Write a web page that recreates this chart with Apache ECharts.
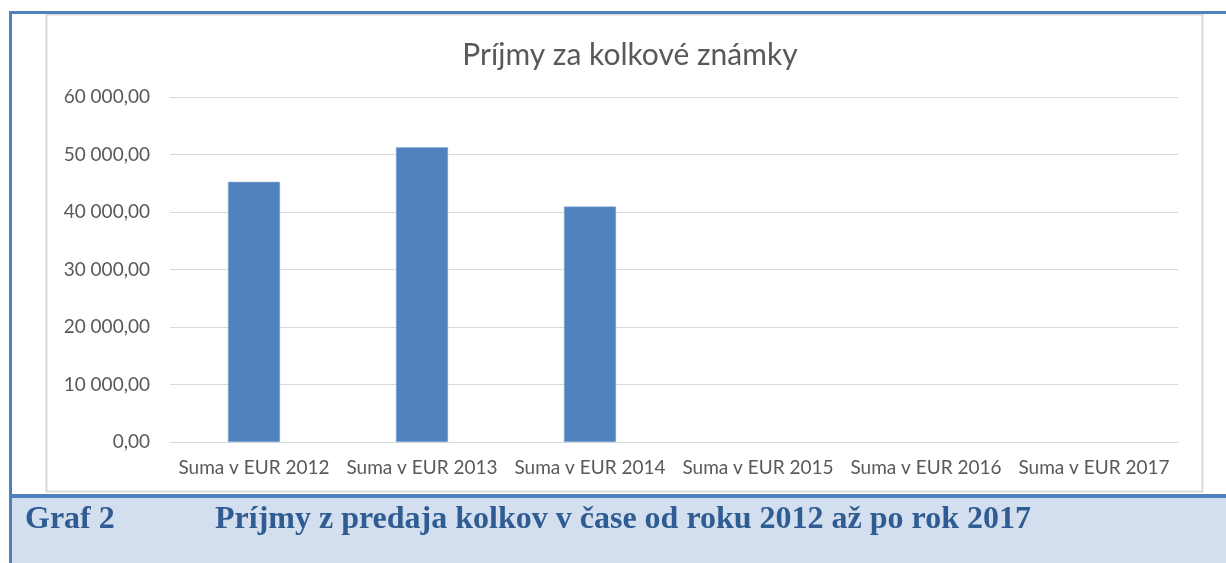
<!DOCTYPE html>
<html>
<head>
<meta charset="utf-8">
<script src="https://cdn.jsdelivr.net/npm/echarts@6/dist/echarts.min.js"></script>
<style>
  html, body { margin: 0; padding: 0; background: #fff; }
  #chart { width: 1226px; height: 563px; }
</style>
</head>
<body>
<div id="chart"></div>
<script>
// data
const categories = ['Suma v EUR 2012', 'Suma v EUR 2013', 'Suma v EUR 2014', 'Suma v EUR 2015', 'Suma v EUR 2016', 'Suma v EUR 2017'];
const values = [45250, 51250, 40950, null, null, null];
const chartTitle = 'Príjmy za kolkové známky';
const captionLabel = 'Graf 2';
const captionText = 'Príjmy z predaja kolkov v čase od roku 2012 až po rok 2017';

const blue = '#4f81bd';
const gray = '#595959';

function fmt(v) {
  // 60000 -> "60 000,00"
  const s = Math.round(v).toString().replace(/\B(?=(\d{3})+(?!\d))/g, ' ');
  return s + ',00';
}

const chart = echarts.init(document.getElementById('chart'));
chart.setOption({
  animation: false,
  title: {
    text: chartTitle,
    left: 625,
    top: 35,
    textAlign: 'center',
    textStyle: { fontFamily: 'Lato', fontWeight: 'normal', fontSize: 30, color: gray }
  },
  grid: { left: 170, right: 48, top: 97, bottom: 121 },
  xAxis: {
    type: 'category',
    data: categories,
    axisTick: { show: false },
    axisLine: { lineStyle: { color: '#d9d9d9', width: 1 } },
    axisLabel: { color: gray, fontFamily: 'Lato', fontSize: 19, margin: 16, interval: 0 }
  },
  yAxis: {
    type: 'value',
    min: 0, max: 60000, interval: 10000,
    axisLine: { show: false },
    axisTick: { show: false },
    splitLine: { lineStyle: { color: '#d9d9d9', width: 1 } },
    axisLabel: { color: gray, fontFamily: 'Lato', fontSize: 19, margin: 20, formatter: fmt }
  },
  series: [{
    type: 'bar',
    data: values,
    barWidth: '31%',
    itemStyle: { color: blue, borderColor: '#8eb0dc', borderWidth: 0.5 }
  }],
  graphic: [
    { type: 'rect', shape: { x: 12, y: 497, width: 1214, height: 66 }, style: { fill: '#d3dfee' } },
    { type: 'rect', shape: { x: 46.5, y: 14.5, width: 1156, height: 477 }, style: { fill: 'none', stroke: '#d9d9d9', lineWidth: 2 } },
    { type: 'rect', shape: { x: 9, y: 11, width: 1217, height: 3 }, style: { fill: blue } },
    { type: 'rect', shape: { x: 9, y: 11, width: 3, height: 552 }, style: { fill: blue } },
    { type: 'rect', shape: { x: 9, y: 494, width: 1217, height: 4 }, style: { fill: blue } },
    { type: 'text', x: 25, y: 520, style: { text: captionLabel, fill: '#2f5c92', font: 'bold 32px "Liberation Serif"', textVerticalAlign: 'middle' } },
    { type: 'text', x: 215, y: 520, style: { text: captionText, fill: '#2f5c92', font: 'bold 32px "Liberation Serif"', textVerticalAlign: 'middle' } }
  ]
});
</script>
</body>
</html>
